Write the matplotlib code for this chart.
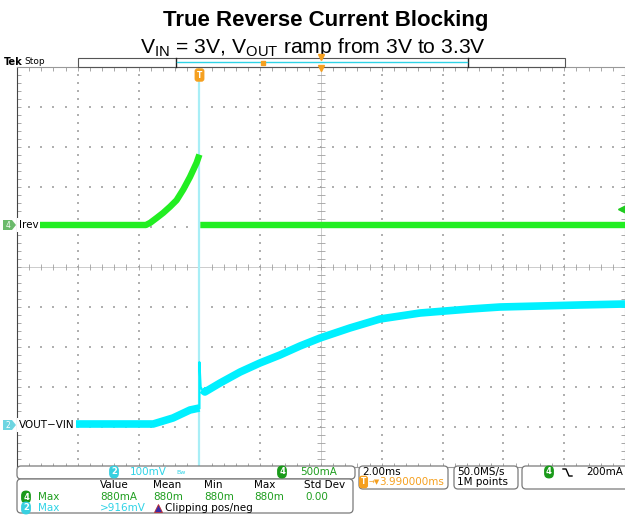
import matplotlib.pyplot as plt
import numpy as np
from matplotlib.patches import FancyBboxPatch, Polygon, Rectangle

plt.rcParams['mathtext.fontset'] = 'custom'
plt.rcParams['mathtext.rm'] = 'Liberation Sans'
plt.rcParams['mathtext.it'] = 'Liberation Sans:italic'
plt.rcParams['mathtext.bf'] = 'Liberation Sans:bold'

# ch4 Irev (mA) against time from trigger (ms); nan splits the trace at the blocking event
irev_t = [-6.0, -1.76, -1.62, -1.40, -1.19, -0.97, -0.75, -0.53, -0.31, -0.09, 0.0, np.nan, 0.03, 14.0]
irev_ma = [0, 0, 27, 90, 152, 227, 310, 444, 600, 780, 880, np.nan, 0, 0]

# ch2 VOUT-VIN (mV)
vdiff_t = [-6.0, -1.52, -0.87, -0.31, 0.0, np.nan, 0.09, 0.18, 0.68, 1.34, 1.99, 2.65, 3.31,
           3.97, 4.95, 5.94, 7.26, 8.9, 9.89, 11.2, 12.5, 14.0]
vdiff_mv = [2.5, 2.5, 17.5, 37.5, 42.5, np.nan, 88, 82.5, 105, 132.5, 155, 175, 197.5,
            217.5, 242.5, 265, 280, 290, 295, 297.5, 300, 302.5]
spike_t = [0.0, 0.0, 0.04, 0.09]
spike_mv = [42.5, 157, 95, 88]

ch4_scale, ch4_pos = 500.0, 1.05   # mA/div, div
ch2_scale, ch2_pos = 100.0, -3.95  # mV/div, div
trig_level = 200.0                 # mA

green = '#22ee22'
cyan = '#00f0ff'
cyan_txt = '#2fd3e6'
green_txt = '#1f9e1f'
orange = '#f5a020'
W, H = 625, 519

fig = plt.figure(figsize=(6.25, 5.19), dpi=100)

# scope graticule: 10 x 10 divisions, 2 ms/div, trigger 3 divs from left
ax = fig.add_axes([17 / W, (H - 467) / H, 608 / W, 400 / H])
ax.set_xlim(-6, 14)
ax.set_ylim(-5, 5)
ax.set_xticks(np.arange(-6, 14.01, 2))
ax.set_xticks(np.arange(-6, 14.01, 0.4), minor=True)
ax.set_yticks(np.arange(-5, 5.01, 1))
ax.set_yticks(np.arange(-5, 5.01, 0.2), minor=True)
ax.tick_params(which='both', direction='in', top=True, bottom=True, left=True, right=True,
               length=3, width=0.6, color='#999999', labelbottom=False, labelleft=False)
for s in ax.spines.values():
    s.set_color('#999999')
    s.set_linewidth(0.8)
ax.spines['left'].set_color('#444444')

# dotted division lines
gx = np.arange(-4, 13.9, 2)
gy = np.arange(-4, 4.9, 1)
for x in gx:
    if x == 4:
        continue
    yy = np.arange(-5, 5.01, 0.2)
    ax.scatter(np.full_like(yy, x), yy, s=0.8, marker='s', color='#b0b0b0', lw=0, zorder=1)
for y in gy:
    if y == 0:
        continue
    xx = np.arange(-6, 14.01, 0.4)
    ax.scatter(xx, np.full_like(xx, y), s=0.8, marker='s', color='#b0b0b0', lw=0, zorder=1)

# centre cross with ticks
ax.axhline(0, color='#c4c4c4', lw=0.6, zorder=1)
ax.axvline(4, color='#c4c4c4', lw=0.6, zorder=1)
ax.vlines(np.arange(-6, 14.01, 0.4), -0.08, 0.08, color='#a0a0a0', lw=0.6, zorder=1)
ax.hlines(np.arange(-5, 5.01, 0.2), 3.87, 4.13, color='#a0a0a0', lw=0.6, zorder=1)

# trigger position line
ax.axvline(0, color='#a8eef6', lw=1.6, zorder=2)

# traces
ax.plot(irev_t, np.array(irev_ma) / ch4_scale + ch4_pos, color=green, lw=4.6,
        solid_capstyle='butt', zorder=3)
ax.plot(vdiff_t, np.array(vdiff_mv) / ch2_scale + ch2_pos, color=cyan, lw=5.5,
        solid_capstyle='butt', zorder=3)
ax.plot(spike_t, np.array(spike_mv) / ch2_scale + ch2_pos, color=cyan, lw=1.6, zorder=3)

# trigger level marker on the right edge
ax.plot(13.9, trig_level / ch4_scale + ch4_pos, marker='<', color='#1fcc1f', ms=6,
        clip_on=False, zorder=4)

# overlay in pixel units for the instrument chrome
ui = fig.add_axes([0, 0, 1, 1], zorder=5)
ui.set_xlim(0, W)
ui.set_ylim(H, 0)
ui.axis('off')
ui.patch.set_alpha(0)

fig.text(326 / W, 1 - 26 / H, 'True Reverse Current Blocking', ha='center', va='baseline',
         fontsize=16, fontweight='bold', family='Liberation Sans')
fig.text(313 / W, 1 - 53 / H, r'V$_{\mathrm{IN}}$ = 3V, V$_{\mathrm{OUT}}$ ramp from 3V to 3.3V',
         ha='center', va='baseline', fontsize=15.2, family='Liberation Sans')

ui.text(4, 62, 'Tek', fontsize=7, fontweight='bold', va='center')
ui.text(24, 62, 'Stop', fontsize=6.5, va='center')

# record view bar
ui.add_patch(Rectangle((78, 58), 487, 9, fill=False, ec='#555555', lw=0.8))
ui.plot([176, 176], [58, 67], color='#222222', lw=1)
ui.plot([468, 468], [58, 67], color='#222222', lw=1)
ui.plot([177, 467], [62, 62], color=cyan_txt, lw=1)
ui.plot(263, 63, marker='s', ms=3.5, color=orange)
ui.plot(321, 57, marker='v', ms=4, color=orange)
ui.plot(321, 68, marker='v', ms=4, color=orange)

# trigger position flag
ui.text(199.5, 75, 'T', fontsize=5.5, fontweight='bold', color='white', ha='center', va='center',
        bbox=dict(boxstyle='round,pad=0.2,rounding_size=0.3', fc=orange, ec=orange))


def ground_marker(y, num, fc):
    ui.add_patch(Polygon([(3, y - 5), (12, y - 5), (16, y), (12, y + 5), (3, y + 5)],
                         closed=True, fc=fc, ec='none', alpha=0.75))
    ui.text(8, y, num, fontsize=5.5, color='white', ha='center', va='center')


y4 = 267 - ch4_pos * 40
y2 = 267 - ch2_pos * 40
ground_marker(y4, '4', '#3aa33a')
ground_marker(y2, '2', '#3cc8d8')
ui.text(19, y4, 'Irev', fontsize=7.5, va='center', ha='left',
        bbox=dict(boxstyle='square,pad=0.15', fc='white', ec='none'))
ui.text(19, y2, 'VOUT\u2212VIN', fontsize=7.5, va='center', ha='left',
        bbox=dict(boxstyle='square,pad=0.15', fc='white', ec='none'))


def box(x0, y0, x1, y1):
    ui.add_patch(FancyBboxPatch((x0, y0), x1 - x0, y1 - y0,
                                boxstyle='round,pad=0,rounding_size=4',
                                fc='white', ec='#7a7a7a', lw=0.9))


def badge(x, y, num, fc):
    ui.text(x, y, num, fontsize=6, fontweight='bold', color='white', ha='center', va='center',
            bbox=dict(boxstyle='round,pad=0.15,rounding_size=0.5', fc=fc, ec=fc))


fs = 7.5
# channel settings row
box(17, 466, 355, 479)
badge(114, 472, '2', '#38d0e0')
ui.text(130, 472, '100mV', fontsize=fs, color=cyan_txt, va='center')
ui.text(176, 472, 'Bw', fontsize=4.5, color=cyan_txt, va='center')
badge(282, 472, '4', '#1a9a1a')
ui.text(300, 472, '500mA', fontsize=fs, color=green_txt, va='center')

# measurement table
box(17, 479, 353, 513)
for x, s in [(100, 'Value'), (153, 'Mean'), (204, 'Min'), (254, 'Max'), (304, 'Std Dev')]:
    ui.text(x, 485, s, fontsize=fs, va='center')
badge(26, 497, '4', '#1a9a1a')
ui.text(38, 497, 'Max', fontsize=fs, color=green_txt, va='center')
for x, s in [(100, '880mA'), (153, '880m'), (204, '880m'), (254, '880m'), (305, '0.00')]:
    ui.text(x, 497, s, fontsize=fs, color=green_txt, va='center')
badge(26, 508, '2', '#38d0e0')
ui.text(38, 508, 'Max', fontsize=fs, color=cyan_txt, va='center')
ui.text(100, 508, '>916mV', fontsize=fs, color=cyan_txt, va='center')
ui.plot(158, 507.5, marker='^', ms=6, color='#3a2aa8', mec='#c03030', mew=0.6)
ui.text(165, 508, 'Clipping pos/neg', fontsize=fs, va='center')

# timebase
box(359, 466, 448, 489)
ui.text(362, 472, '2.00ms', fontsize=fs, va='center')
ui.text(363.5, 482, 'T', fontsize=5.5, fontweight='bold', color='white', ha='center', va='center',
        bbox=dict(boxstyle='round,pad=0.15,rounding_size=0.3', fc=orange, ec=orange))
ui.text(369, 482, '\u2192\u25bc', fontsize=5, color=orange, va='center')
ui.text(444, 482, '3.990000ms', fontsize=fs, color=orange, va='center', ha='right')

# acquisition
box(454, 466, 518, 489)
ui.text(457, 472, '50.0MS/s', fontsize=fs, va='center')
ui.text(457, 482, '1M points', fontsize=fs, va='center')

# trigger
box(522, 466, 640, 489)
badge(549, 472, '4', '#1a9a1a')
ui.plot([563, 566, 569, 572], [469, 469, 476, 476], color='black', lw=1)
ui.text(623, 472, '200mA', fontsize=fs, va='center', ha='right')

fig.savefig('out.png', dpi=100)
